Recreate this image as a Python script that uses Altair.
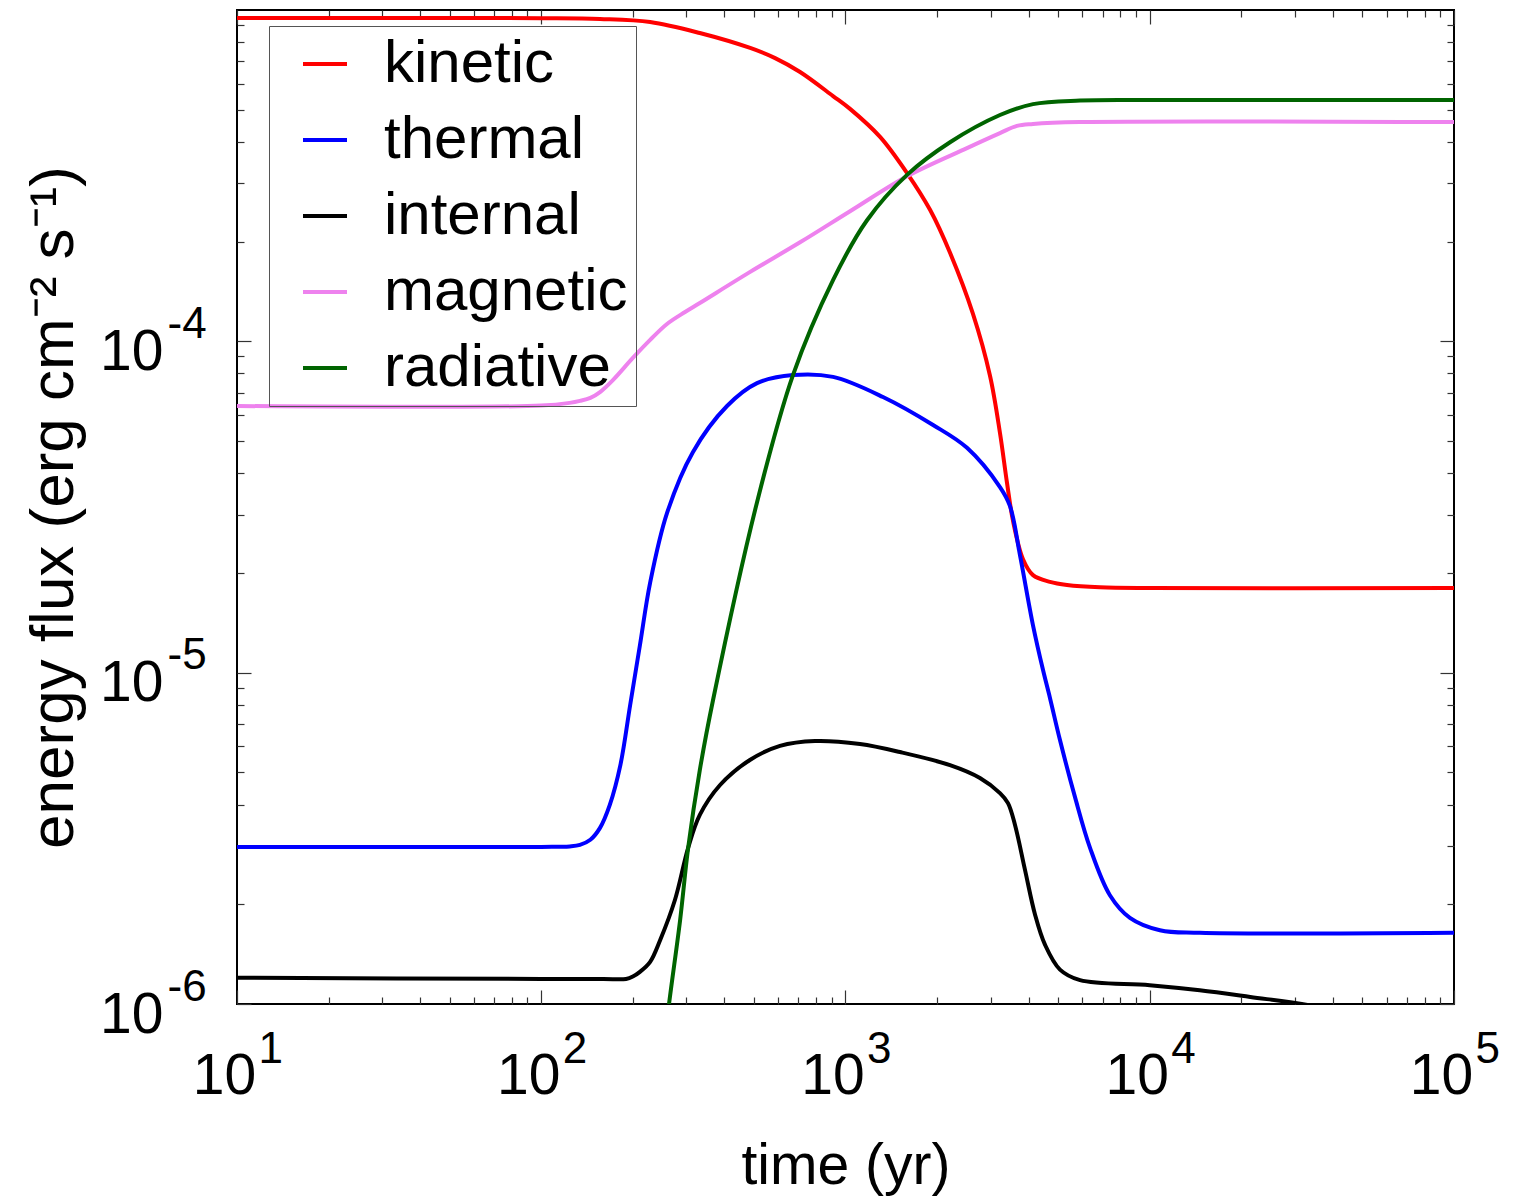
import altair as alt
import pandas as pd

# ---------------- data ----------------
series_names = ["kinetic", "thermal", "internal", "magnetic", "radiative"]
series_colors = ["#ff0000", "#0000ff", "#000000", "#ee82ee", "#006400"]
series_widths = [4, 4, 4, 4, 3]

kinetic_time = [10, 30, 100, 156, 228, 332, 486, 587, 709, 910, 1035, 1299, 1593, 1898,
                2206, 2624, 2986, 3219, 3395, 3553, 3832, 4133, 4699, 5346, 6860, 10000,
                100000]
kinetic_flux = [9.46e-4, 9.46e-4, 9.45e-4, 9.40e-4, 9.20e-4, 8.52e-4, 7.68e-4, 7.16e-4,
                6.50e-4, 5.50e-4, 5.03e-4, 4.14e-4, 3.22e-4, 2.49e-4, 1.85e-4, 1.21e-4,
                7.86e-5, 5.29e-5, 3.74e-5, 2.87e-5, 2.20e-5, 1.97e-5, 1.88e-5, 1.84e-5,
                1.81e-5, 1.80e-5, 1.80e-5]

thermal_time = [10, 100, 124, 134, 145, 156, 168, 182, 196, 211, 228, 259, 315, 408, 512,
                672, 910, 1328, 1940, 2508, 3219, 3473, 3746, 4133, 4457, 4699, 5069,
                5680, 6364, 7396, 8607, 10800, 14600, 100000]
thermal_flux = [2.98e-6, 2.98e-6, 2.99e-6, 3.02e-6, 3.13e-6, 3.40e-6, 3.99e-6, 5.26e-6,
                7.99e-6, 1.21e-5, 1.87e-5, 3.03e-5, 4.63e-5, 6.38e-5, 7.48e-5, 7.91e-5,
                7.81e-5, 6.79e-5, 5.59e-5, 4.77e-5, 3.63e-5, 3.18e-5, 2.26e-5, 1.39e-5,
                1.02e-5, 8.39e-6, 6.26e-6, 4.21e-6, 2.96e-6, 2.13e-6, 1.82e-6, 1.67e-6,
                1.64e-6, 1.64e-6]

internal_time = [10, 100, 160, 190, 200, 211, 228, 246, 275, 304, 332, 387, 485, 609, 794,
                 1116, 1510, 2205, 2766, 3219, 3420, 3607, 3890, 4198, 4525, 5069, 5901,
                 10000, 14600, 21400, 33700, 100000]
internal_flux = [1.20e-6, 1.19e-6, 1.19e-6, 1.19e-6, 1.21e-6, 1.25e-6, 1.34e-6, 1.56e-6,
                 2.06e-6, 2.96e-6, 3.72e-6, 4.58e-6, 5.45e-6, 6.01e-6, 6.22e-6, 6.09e-6,
                 5.76e-6, 5.26e-6, 4.81e-6, 4.33e-6, 4.04e-6, 3.47e-6, 2.54e-6, 1.86e-6,
                 1.51e-6, 1.27e-6, 1.18e-6, 1.14e-6, 1.10e-6, 1.05e-6, 0.99e-6, 0.80e-6]

magnetic_time = [10, 100, 124, 134, 145, 156, 172, 200, 228, 259, 297, 332, 486, 709,
                 1035, 1593, 2508, 3219, 3662, 4133, 5898, 100000]
magnetic_flux = [6.38e-5, 6.40e-5, 6.52e-5, 6.61e-5, 6.75e-5, 7.03e-5, 7.64e-5, 8.91e-5,
                 1.01e-4, 1.128e-4, 1.226e-4, 1.305e-4, 1.62e-4, 1.99e-4, 2.47e-4, 3.15e-4,
                 3.83e-4, 4.25e-4, 4.47e-4, 4.53e-4, 4.59e-4, 4.59e-4]

radiative_time = [240, 263, 286, 304, 332, 367, 512, 672, 910, 1177, 1593, 2206, 3219,
                  4133, 5898, 10000, 100000]
radiative_flux = [5.0e-7, 1.0e-6, 1.79e-6, 2.96e-6, 5.08e-6, 8.27e-6, 3.27e-5, 7.91e-5,
                  1.53e-4, 2.32e-4, 3.18e-4, 3.99e-4, 4.82e-4, 5.20e-4, 5.33e-4, 5.35e-4,
                  5.35e-4]

x_major = [10, 100, 1000, 10000, 100000]
x_minor = [20, 30, 40, 50, 60, 70, 80, 90,
           200, 300, 400, 500, 600, 700, 800, 900,
           2000, 3000, 4000, 5000, 6000, 7000, 8000, 9000,
           20000, 30000, 40000, 50000, 60000, 70000, 80000, 90000]
y_major = [1e-6, 1e-5, 1e-4]
y_minor = [2e-6, 3e-6, 4e-6, 5e-6, 6e-6, 7e-6, 8e-6, 9e-6,
           2e-5, 3e-5, 4e-5, 5e-5, 6e-5, 7e-5, 8e-5, 9e-5,
           2e-4, 3e-4, 4e-4, 5e-4, 6e-4, 7e-4, 8e-4, 9e-4]

x_title = "time (yr)"
y_title = "energy flux (erg cm\u207b\u00b2 s\u207b\u00b9)"

series_data = [
    ("kinetic", kinetic_time, kinetic_flux),
    ("thermal", thermal_time, thermal_flux),
    ("internal", internal_time, internal_flux),
    ("magnetic", magnetic_time, magnetic_flux),
    ("radiative", radiative_time, radiative_flux),
]
rows = []
for name, ts, fs in series_data:
    for t, f in zip(ts, fs):
        rows.append({"time": t, "flux": f, "series": name})
df = pd.DataFrame(rows)

# ---------------- styling ----------------
FONT = "Liberation Sans, Arial, sans-serif"
W, H = 1217, 994
FS = 57
LEG_FS = 60
TITLE_FS = 62
EXP_FS = 44
MAJ, MIN = 14, 7
TICK_COLOR = "#333333"

xs = alt.Scale(type="log", domain=[10, 100000], nice=False)
ys = alt.Scale(type="log", domain=[1e-6, 1e-3], nice=False)

EXP_EXPR = "'' + round(log(datum.value) / LN10)"


def tick_axis(orient, values, size):
    return alt.Axis(orient=orient, values=values, offset=-size, tickSize=size,
                    tickColor=TICK_COLOR, tickWidth=1.2, labels=False, domain=False,
                    grid=False, title=None)


x_main = alt.Axis(orient="bottom", values=x_major, labelExpr="'10'", labelFont=FONT,
                  labelFontSize=FS, labelColor="black", labelBaseline="alphabetic",
                  labelAlign="center", labelPadding=89, labelOffset=-13, ticks=False,
                  tickSize=0, domain=False, grid=False, labelFlush=False,
                  labelOverlap=False, labelBound=False,
                  title=x_title, titleFont=FONT, titleFontSize=FS,
                  titleFontWeight="normal", titleColor="black",
                  titleBaseline="alphabetic", titleY=179)
x_exp = alt.Axis(orient="bottom", values=x_major, labelExpr=EXP_EXPR, labelFont=FONT,
                 labelFontSize=EXP_FS, labelColor="black", labelBaseline="alphabetic",
                 labelAlign="left", labelPadding=58, labelOffset=21, ticks=False,
                 tickSize=0, domain=False, grid=False, labelFlush=False,
                 labelOverlap=False, labelBound=False, title=None)
y_main = alt.Axis(orient="left", values=y_major, labelExpr="'10'", labelFont=FONT,
                  labelFontSize=FS, labelColor="black", labelBaseline="alphabetic",
                  labelAlign="right", labelPadding=74, labelOffset=28, ticks=False,
                  tickSize=0, domain=False, grid=False, labelFlush=False,
                  labelOverlap=False, labelBound=False,
                  title=y_title, titleFont=FONT, titleFontSize=TITLE_FS,
                  titleFontWeight="normal", titleColor="black", titleAngle=270,
                  titleBaseline="alphabetic", titleX=-165)
y_exp = alt.Axis(orient="left", values=y_major, labelExpr=EXP_EXPR, labelFont=FONT,
                 labelFontSize=EXP_FS, labelColor="black", labelBaseline="alphabetic",
                 labelAlign="left", labelPadding=70, labelOffset=-4, ticks=False,
                 tickSize=0, domain=False, grid=False, labelFlush=False,
                 labelOverlap=False, labelBound=False, title=None)

legend = alt.Legend(title=None, orient="none", legendX=32, legendY=16,
                    symbolType="stroke", symbolSize=1936, symbolStrokeWidth=4,
                    labelFont=FONT, labelFontSize=LEG_FS, labelColor="black",
                    labelLimit=600, labelOffset=29, symbolOffset=18, padding=8,
                    rowPadding=16, strokeColor="#555555")

base = alt.Chart(df)

lines = base.mark_line(interpolate="catmull-rom", clip=True).encode(
    x=alt.X("time:Q", scale=xs, axis=x_main),
    y=alt.Y("flux:Q", scale=ys, axis=y_main),
    color=alt.Color("series:N", sort=series_names,
                    scale=alt.Scale(domain=series_names, range=series_colors),
                    legend=legend),
    strokeWidth=alt.StrokeWidth("series:N",
                                scale=alt.Scale(domain=series_names, range=series_widths),
                                legend=None),
)


def ghost(xaxis, yaxis):
    return base.mark_line(opacity=0, clip=True).encode(
        x=alt.X("time:Q", scale=xs, axis=xaxis),
        y=alt.Y("flux:Q", scale=ys, axis=yaxis),
        detail="series:N",
    )


layers = [
    lines,
    ghost(x_exp, y_exp),
    ghost(tick_axis("bottom", x_major, MAJ), tick_axis("left", y_major, MAJ)),
    ghost(tick_axis("bottom", x_minor, MIN), tick_axis("left", y_minor, MIN)),
    ghost(tick_axis("top", x_major, MAJ), tick_axis("right", y_major, MAJ)),
    ghost(tick_axis("top", x_minor, MIN), tick_axis("right", y_minor, MIN)),
]

chart = alt.layer(*layers).resolve_axis(x="independent", y="independent").properties(
    width=W, height=H,
    autosize=alt.AutoSizeParams(type="none"),
    padding={"left": 237, "top": 10, "right": 71, "bottom": 195},
    background="white",
).configure_view(stroke="black", strokeWidth=2)

chart.save("out.html", embed_options={"renderer": "svg", "actions": False})
